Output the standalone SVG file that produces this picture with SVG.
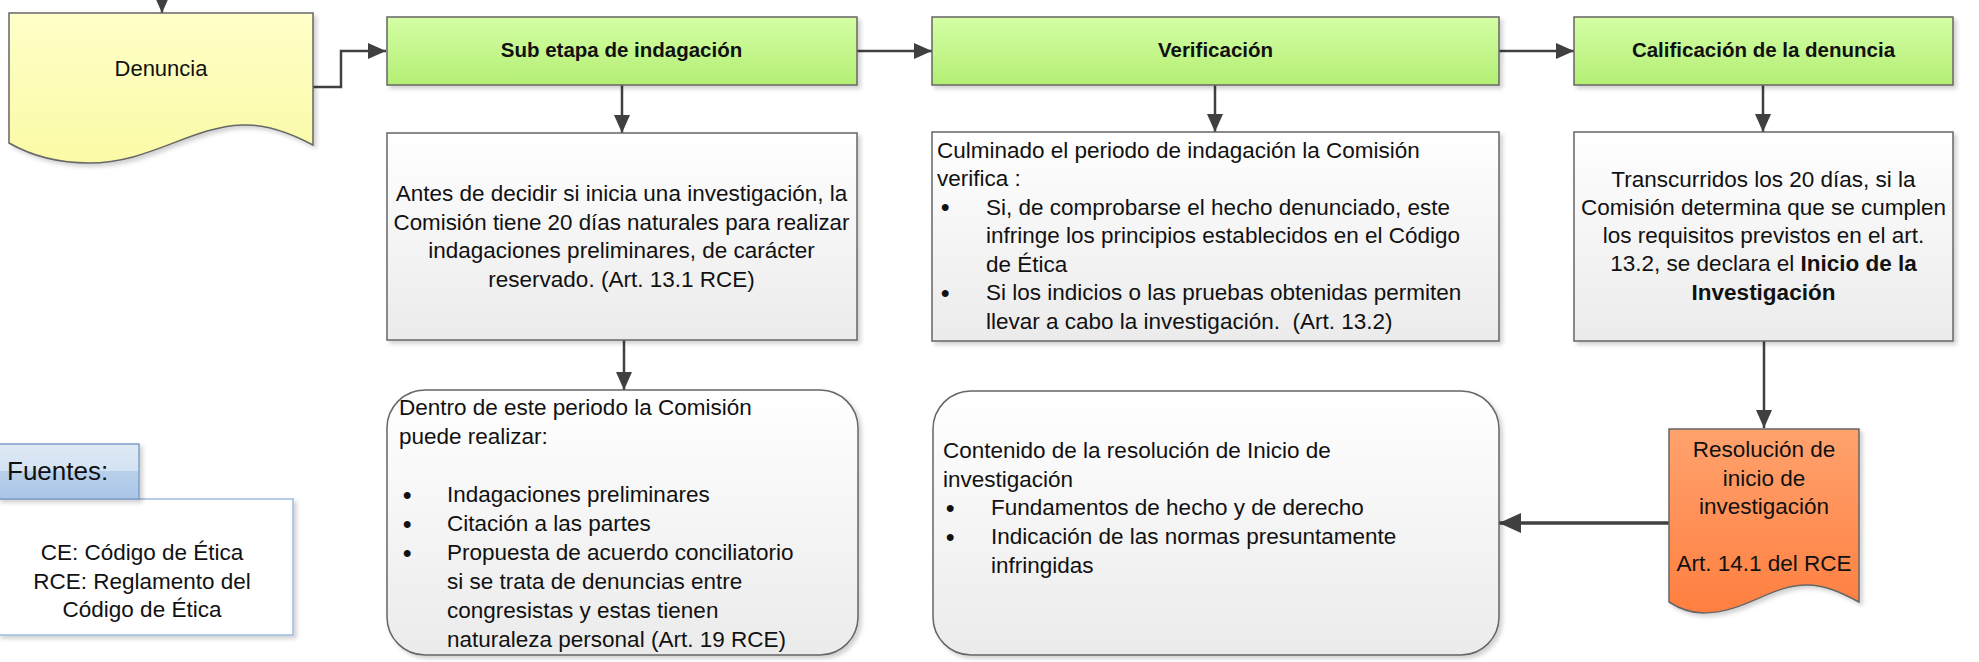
<svg xmlns="http://www.w3.org/2000/svg" width="1979" height="662" viewBox="0 0 1979 662">
<defs>
<linearGradient id="gGreen" x1="0" y1="0" x2="0" y2="1"><stop offset="0" stop-color="#d4ffa6"/><stop offset="1" stop-color="#b4ee74"/></linearGradient>
<linearGradient id="gGray" x1="0" y1="0" x2="0" y2="1"><stop offset="0" stop-color="#ffffff"/><stop offset="1" stop-color="#ebebeb"/></linearGradient>
<linearGradient id="gYellow" x1="0" y1="0" x2="0" y2="1"><stop offset="0" stop-color="#ffffc8"/><stop offset="1" stop-color="#fafaa6"/></linearGradient>
<linearGradient id="gOrange" x1="0" y1="0" x2="0" y2="1"><stop offset="0" stop-color="#ffa26e"/><stop offset="1" stop-color="#ff7f40"/></linearGradient>
<linearGradient id="gBlue" x1="0" y1="0" x2="0" y2="1"><stop offset="0" stop-color="#dfe9f5"/><stop offset="0.5" stop-color="#d3e2f3"/><stop offset="0.5" stop-color="#b9d0ea"/><stop offset="1" stop-color="#a9c6e8"/></linearGradient>
<filter id="sh" x="-10%" y="-10%" width="130%" height="130%"><feDropShadow dx="3" dy="3" stdDeviation="2" flood-color="#000" flood-opacity="0.18"/></filter>
<marker id="ah" viewBox="0 0 18 16" markerWidth="18" markerHeight="16" refX="18" refY="8" orient="auto" markerUnits="userSpaceOnUse"><path d="M0,0 L18,8 L0,16 z" fill="#404040"/></marker>
<marker id="ahL" viewBox="0 0 22 20" markerWidth="22" markerHeight="20" refX="22" refY="10" orient="auto" markerUnits="userSpaceOnUse"><path d="M0,0 L22,10 L0,20 z" fill="#404040"/></marker>
<style>
.t{font-family:"Liberation Sans",Arial,sans-serif;font-size:22.5px;fill:#111}
.c{text-anchor:middle}
.b{font-weight:bold}
.bu{font-size:24px;font-weight:bold}
.h{font-family:"Liberation Sans",Arial,sans-serif;font-size:20.5px;font-weight:bold;fill:#111;text-anchor:middle}
.box{stroke:#666;stroke-width:1.5;filter:url(#sh)}
.cn{fill:none;stroke:#404040;stroke-width:2.5}
</style>
</defs>

<g id="connectors">
<line class="cn" x1="162" y1="-10" x2="162" y2="13" marker-end="url(#ah)"/>
<polyline class="cn" points="313,87 341,87 341,51 386,51" marker-end="url(#ah)"/>
<line class="cn" x1="857" y1="51" x2="932" y2="51" marker-end="url(#ah)"/>
<line class="cn" x1="1499" y1="51" x2="1574" y2="51" marker-end="url(#ah)"/>
<line class="cn" x1="622" y1="85" x2="622" y2="133" marker-end="url(#ah)"/>
<line class="cn" x1="624" y1="340" x2="624" y2="390" marker-end="url(#ah)"/>
<line class="cn" x1="1215" y1="85" x2="1215" y2="132" marker-end="url(#ah)"/>
<line class="cn" x1="1763" y1="85" x2="1763" y2="132" marker-end="url(#ah)"/>
<line class="cn" x1="1764" y1="341" x2="1764" y2="428" marker-end="url(#ah)"/>
<line class="cn" style="stroke-width:3.5" x1="1669" y1="523" x2="1499" y2="523" marker-end="url(#ahL)"/>
</g>

<g id="denuncia">
<path class="box" fill="url(#gYellow)" d="M9,13 L313,13 L313,145 C285,130 262,124 242,125 C190,127 150,163 89,163 C55,163 30,155 9,143 Z"/>
<text class="t c" x="161" y="76" style="font-size:22px">Denuncia</text>
</g>

<g id="sub-etapa">
<rect class="box" fill="url(#gGreen)" x="387" y="17" width="470" height="68"/>
<text class="h" x="621.5" y="57">Sub etapa de indagación</text>
</g>

<g id="verificacion">
<rect class="box" fill="url(#gGreen)" x="932" y="17" width="567" height="68"/>
<text class="h" x="1215.5" y="57">Verificación</text>
</g>

<g id="calificacion">
<rect class="box" fill="url(#gGreen)" x="1574" y="17" width="379" height="68"/>
<text class="h" x="1763.5" y="57">Calificación de la denuncia</text>
</g>

<g id="indagacion-texto">
<rect class="box" fill="url(#gGray)" x="387" y="133" width="470" height="207"/>
<text class="t c" x="621.5" y="201">Antes de decidir si inicia una investigación, la</text>
<text class="t c" x="621.5" y="229.5" textLength="456" lengthAdjust="spacingAndGlyphs">Comisión tiene 20 días naturales para realizar</text>
<text class="t c" x="621.5" y="258">indagaciones preliminares, de carácter</text>
<text class="t c" x="621.5" y="286.5">reservado. (Art. 13.1 RCE)</text>
</g>

<g id="verificacion-texto">
<rect class="box" fill="url(#gGray)" x="932" y="132" width="567" height="209"/>
<text class="t" x="937" y="157.5">Culminado el periodo de indagación la Comisión</text>
<text class="t" x="937" y="186">verifica :</text>
<text class="t bu" x="941" y="215">•</text>
<text class="t" x="986" y="214.5">Si, de comprobarse el hecho denunciado, este</text>
<text class="t" x="986" y="243">infringe los principios establecidos en el Código</text>
<text class="t" x="986" y="271.5">de Ética</text>
<text class="t bu" x="941" y="300.5">•</text>
<text class="t" x="986" y="300">Si los indicios o las pruebas obtenidas permiten</text>
<text class="t" x="986" y="328.5">llevar a cabo la investigación.&#160; (Art. 13.2)</text>
</g>

<g id="calificacion-texto">
<rect class="box" fill="url(#gGray)" x="1574" y="132" width="379" height="209"/>
<text class="t c" x="1763.5" y="186.5">Transcurridos los 20 días, si la</text>
<text class="t c" x="1763.5" y="215">Comisión determina que se cumplen</text>
<text class="t c" x="1763.5" y="243">los requisitos previstos en el art.</text>
<text class="t c" x="1763.5" y="271">13.2, se declara el <tspan class="b">Inicio de la</tspan></text>
<text class="t c b" x="1763.5" y="299.5">Investigación</text>
</g>

<g id="dentro-periodo">
<rect class="box" fill="url(#gGray)" x="387" y="390" width="471" height="265" rx="38" ry="38"/>
<text class="t" x="399" y="415">Dentro de este periodo la Comisión</text>
<text class="t" x="399" y="444">puede realizar:</text>
<text class="t bu" x="403" y="502.5">•</text>
<text class="t" x="447" y="502">Indagaciones preliminares</text>
<text class="t bu" x="403" y="531.5">•</text>
<text class="t" x="447" y="531">Citación a las partes</text>
<text class="t bu" x="403" y="560.5">•</text>
<text class="t" x="447" y="560">Propuesta de acuerdo conciliatorio</text>
<text class="t" x="447" y="589">si se trata de denuncias entre</text>
<text class="t" x="447" y="618">congresistas y estas tienen</text>
<text class="t" x="447" y="647">naturaleza personal (Art. 19 RCE)</text>
</g>

<g id="contenido-resolucion">
<rect class="box" fill="url(#gGray)" x="933" y="391" width="566" height="264" rx="38" ry="38"/>
<text class="t" x="943" y="458">Contenido de la resolución de Inicio de</text>
<text class="t" x="943" y="486.7">investigación</text>
<text class="t bu" x="946" y="516">•</text>
<text class="t" x="991" y="515.4">Fundamentos de hecho y de derecho</text>
<text class="t bu" x="946" y="544.5">•</text>
<text class="t" x="991" y="544">Indicación de las normas presuntamente</text>
<text class="t" x="991" y="572.7">infringidas</text>
</g>

<g id="resolucion">
<path class="box" fill="url(#gOrange)" stroke="#888" d="M1669,429 L1859,429 L1859,602 C1840,592 1825,585 1807,585 C1770,585 1745,613 1703,613 C1690,613 1680,609 1669,602 Z"/>
<text class="t c" x="1764" y="457">Resolución de</text>
<text class="t c" x="1764" y="485.5">inicio de</text>
<text class="t c" x="1764" y="514">investigación</text>
<text class="t c" x="1764" y="571">Art. 14.1 del RCE</text>
</g>

<g id="fuentes">
<rect fill="#ffffff" stroke="#9dbbe0" stroke-width="1.5" filter="url(#sh)" x="-2" y="499" width="295" height="136"/>
<rect fill="url(#gBlue)" stroke="#7f9fc8" stroke-width="1.5" filter="url(#sh)" x="-2" y="444" width="141" height="55"/>
<text class="t" x="7" y="480" style="font-size:26px">Fuentes:</text>
<text class="t c" x="142" y="560">CE: Código de Ética</text>
<text class="t c" x="142" y="588.5">RCE: Reglamento del</text>
<text class="t c" x="142" y="617">Código de Ética</text>
</g>
</svg>
